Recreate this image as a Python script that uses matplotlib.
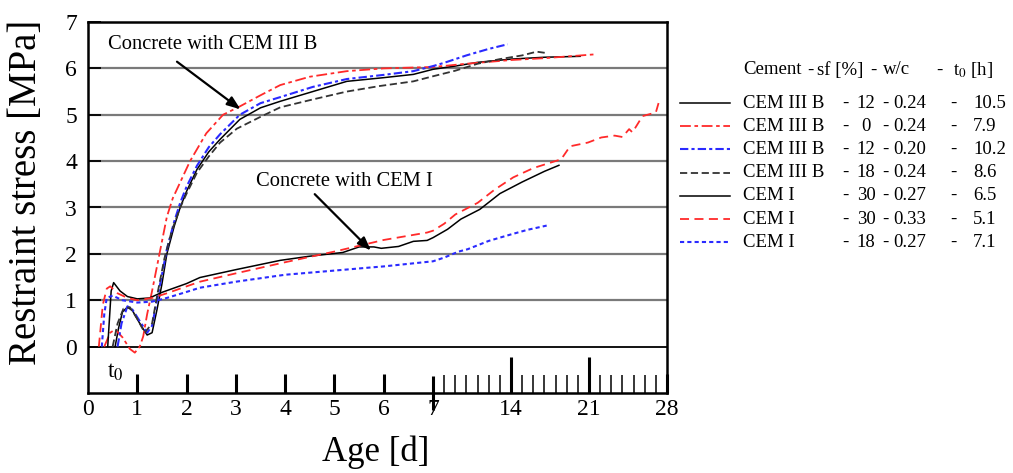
import numpy as np
import matplotlib
matplotlib.use("Agg")
import matplotlib.pyplot as plt

plt.rcParams['font.family'] = ['Liberation Serif', 'DejaVu Serif']
plt.rcParams['mathtext.fontset'] = 'stix'

#-------- data (age in days, restraint stress in MPa) --------#
# CEM III B - 12 - 0.24 - 10.5 h
c3_12_24_x = [0.55, 0.62, 0.70, 0.80, 0.90, 1.05, 1.20, 1.30, 1.40, 1.50, 1.60, 1.75, 1.87, 2.00, 2.21,
              2.45, 2.68, 3.08, 3.50, 3.90, 4.56, 5.25, 6.00, 6.60, 7.0, 9.0, 11.0, 14.0, 17.0, 20.2]
c3_12_24_y = [0.00, 0.40, 0.75, 0.85, 0.78, 0.50, 0.25, 0.30, 0.80, 1.35, 2.00, 2.60, 3.00, 3.35, 3.82,
              4.20, 4.47, 4.90, 5.15, 5.29, 5.50, 5.72, 5.80, 5.87, 5.98, 6.05, 6.13, 6.20, 6.24, 6.26]
# CEM III B - 0 - 0.24 - 7.9 h
c3_0_24_x = [0.33, 0.45, 0.55, 0.70, 0.85, 0.95, 1.05, 1.12, 1.20, 1.30, 1.45, 1.60, 1.72, 2.07, 2.40,
             2.74, 3.08, 3.50, 3.90, 4.50, 5.25, 6.00, 7.0, 10.0, 14.0, 17.0, 21.4]
c3_0_24_y = [0.00, 0.30, 0.37, 0.20, -0.05, -0.13, 0.00, 0.22, 0.70, 1.20, 2.00, 2.80, 3.20, 4.00, 4.60,
             5.00, 5.18, 5.42, 5.64, 5.82, 5.94, 6.00, 6.03, 6.10, 6.18, 6.22, 6.30]
# CEM III B - 12 - 0.20 - 10.2 h
c3_12_20_x = [0.60, 0.68, 0.80, 0.90, 1.05, 1.20, 1.30, 1.40, 1.50, 1.60, 1.75, 1.87, 2.00, 2.21, 2.45,
              2.68, 3.08, 3.50, 3.90, 4.56, 5.25, 6.00, 6.60, 7.0, 8.0, 10.0, 12.0, 13.7]
c3_12_20_y = [0.00, 0.50, 0.87, 0.80, 0.55, 0.30, 0.45, 1.00, 1.55, 2.10, 2.70, 3.10, 3.45, 3.90, 4.30,
              4.58, 5.00, 5.25, 5.38, 5.60, 5.77, 5.86, 5.94, 6.05, 6.12, 6.28, 6.42, 6.52]
# CEM III B - 18 - 0.24 - 8.6 h
c3_18_24_x = [0.50, 0.60, 0.72, 0.85, 1.00, 1.15, 1.30, 1.42, 1.55, 1.70, 1.87, 2.00, 2.21, 2.45, 2.68,
              3.02, 3.49, 3.90, 4.56, 5.25, 5.92, 6.60, 7.0, 9.0, 11.0, 13.0, 15.0, 16.3, 17.2]
c3_18_24_y = [0.00, 0.50, 0.82, 0.85, 0.60, 0.30, 0.50, 1.20, 1.90, 2.50, 3.00, 3.30, 3.75, 4.10, 4.40,
              4.70, 4.95, 5.16, 5.33, 5.50, 5.62, 5.72, 5.83, 5.95, 6.10, 6.20, 6.28, 6.36, 6.33]
# CEM I - 30 - 0.27 - 6.5 h
c1_30_27_x = [0.40, 0.47, 0.52, 0.65, 0.80, 1.00, 1.25, 1.50, 2.00, 2.27, 3.00, 3.90, 4.50, 5.17, 5.50,
              5.80, 5.95, 6.30, 6.60, 6.88, 7.0, 8.3, 9.5, 11.2, 13.0, 15.0, 17.0, 18.3]
c1_30_27_y = [0.00, 1.20, 1.38, 1.20, 1.08, 1.03, 1.05, 1.17, 1.36, 1.49, 1.66, 1.86, 1.95, 2.03, 2.15,
              2.15, 2.12, 2.16, 2.27, 2.29, 2.35, 2.53, 2.75, 2.96, 3.30, 3.55, 3.78, 3.91]
# CEM I - 30 - 0.33 - 5.1 h
c1_30_33_x = [0.22, 0.30, 0.38, 0.45, 0.60, 0.80, 1.00, 1.30, 1.60, 2.00, 2.27, 3.00, 4.00, 5.00, 6.00,
              6.88, 7.0, 8.0, 9.0, 11.0, 12.5, 14.2, 16.0, 18.5, 19.3, 20.9, 22.1, 23.3, 24.0, 24.6,
              24.9, 25.8, 27.0, 27.3]
c1_30_33_y = [0.00, 0.90, 1.25, 1.30, 1.15, 1.05, 1.00, 1.05, 1.15, 1.30, 1.40, 1.58, 1.82, 2.05, 2.30,
              2.46, 2.50, 2.65, 2.85, 3.10, 3.38, 3.65, 3.85, 4.04, 4.32, 4.40, 4.51, 4.55, 4.52, 4.69,
              4.62, 4.97, 5.05, 5.30]
# CEM I - 18 - 0.27 - 7.1 h
c1_18_27_x = [0.28, 0.33, 0.38, 0.50, 0.70, 1.00, 1.30, 1.60, 2.00, 2.27, 3.00, 4.00, 5.00, 5.66, 6.00,
              7.0, 8.0, 9.3, 10.1, 12.0, 14.0, 15.5, 17.2]
c1_18_27_y = [0.00, 0.70, 1.05, 1.10, 1.00, 0.95, 0.97, 1.05, 1.18, 1.27, 1.40, 1.55, 1.64, 1.70, 1.73,
              1.84, 1.92, 2.05, 2.10, 2.28, 2.42, 2.52, 2.61]

names = ['CEM III B', 'CEM III B', 'CEM III B', 'CEM III B', 'CEM I', 'CEM I', 'CEM I']
sf = ['12', '0', '12', '18', '30', '30', '18']
wc = ['0.24', '0.24', '0.20', '0.24', '0.27', '0.33', '0.27']
t0 = ['10.5', '7.9', '10.2', '8.6', '6.5', '5.1', '7.1']

RED = '#ff2a2a'
BLUE = '#2a2aff'
series = [
    (c3_12_24_x, c3_12_24_y, dict(color='black', lw=1.1, ls='-')),
    (c3_0_24_x, c3_0_24_y, dict(color=RED, lw=1.3, ls=(0, (6, 2, 2, 2)))),
    (c3_12_20_x, c3_12_20_y, dict(color=BLUE, lw=1.5, ls=(0, (4, 1.5, 1.5, 1.5)))),
    (c3_18_24_x, c3_18_24_y, dict(color='#333333', lw=1.3, ls=(0, (4, 2)))),
    (c1_30_27_x, c1_30_27_y, dict(color='black', lw=1.1, ls='-')),
    (c1_30_33_x, c1_30_33_y, dict(color=RED, lw=1.3, ls=(0, (5, 3)))),
    (c1_18_27_x, c1_18_27_y, dict(color=BLUE, lw=1.5, ls=(0, (2, 1.5)))),
]

#-------- broken time axis: 0-7 d linear, 7-28 d compressed --------#
K = 0.226
def fwd(x):
    x = np.asarray(x, dtype=float)
    return np.where(x <= 7, x, 7 + (x - 7) * K)
def inv(u):
    u = np.asarray(u, dtype=float)
    return np.where(u <= 7, u, 7 + (u - 7) / K)

fig = plt.figure(figsize=(10.13, 4.73), dpi=100)
ax = fig.add_axes([88/1013, 80/473, 579/1013, 371/473])
ax.set_xscale('function', functions=(fwd, inv))

for x, y, st in series:
    ax.plot(x, y, **st)

ax.set_xlim(0, 28)
ax.set_ylim(-1, 7)

# grid
for g in range(1, 7):
    ax.axhline(g, color='#7a7a7a', lw=1.6, zorder=0)
ax.axhline(0, color='black', lw=1.3, zorder=0)

for s in ax.spines.values():
    s.set_linewidth(1.8)

ax.set_yticks(range(0, 8))
ax.tick_params(axis='y', direction='in', length=9, width=1.3, labelsize=17, pad=8)
ax.set_xticks([0, 1, 2, 3, 4, 5, 6, 7, 14, 21, 28])
ax.set_xticks([d for d in range(8, 28) if d not in (14, 21)], minor=True)
ax.tick_params(axis='x', which='major', direction='in', length=14, width=2.2, labelsize=17, pad=4)
ax.tick_params(axis='x', which='minor', direction='in', length=13, width=1.1)
ax.tick_params(top=False, right=False)
xt = ax.xaxis.get_major_ticks()
xt[0].tick1line.set_visible(False)
for i in (8, 9):
    xt[i].tick1line.set_markersize(26)
xt[7].tick1line.set_marker('|')
xt[7].tick1line.set_markersize(24)

ax.text(0.38, -0.55, 't$_0$', fontsize=17, ha='left', va='center')

ax.annotate('', xy=(3.14, 5.08), xytext=(1.76, 6.18),
            arrowprops=dict(arrowstyle='-|>,head_length=0.8,head_width=0.3', color='black', lw=1.6))
ax.text(0.40, 6.52, 'Concrete with CEM III B', fontsize=14.8, ha='left', va='center')
ax.annotate('', xy=(5.78, 2.03), xytext=(4.56, 3.33),
            arrowprops=dict(arrowstyle='-|>,head_length=0.8,head_width=0.3', color='black', lw=1.6))
ax.text(3.40, 3.56, 'Concrete with CEM I', fontsize=14.8, ha='left', va='center')

fig.text(27/1013, 1 - 192/473, 'Restraint stress [MPa]', rotation=90, fontsize=28,
         ha='center', va='center')
fig.text(376/1013, 1 - 452/473, 'Age [d]', fontsize=25, ha='center', va='center')

#-------- legend table on the right --------#
lg = fig.add_axes([0, 0, 1, 1])
lg.set_xlim(0, 1013)
lg.set_ylim(473, 0)
lg.axis('off')
fs = 13.5
hy = 70
lg.text(743, hy, 'Cement', fontsize=fs, ha='left', va='center')
lg.text(810, hy, '-', fontsize=fs, ha='center', va='center')
lg.text(817, hy, 'sf [%]', fontsize=fs, ha='left', va='center')
lg.text(873, hy, '-', fontsize=fs, ha='center', va='center')
lg.text(883, hy, 'w/c', fontsize=fs, ha='left', va='center')
lg.text(939, hy, '-', fontsize=fs, ha='center', va='center')
lg.text(953, hy, 't$_0$ [h]', fontsize=fs, ha='left', va='center')
for i in range(7):
    ry = 103 + i * 23.2
    lg.plot([680, 730], [ry, ry], **series[i][2])
    lg.text(743, ry, names[i], fontsize=fs, ha='left', va='center')
    lg.text(845, ry, '-', fontsize=fs, ha='center', va='center')
    lg.text(866, ry, sf[i], fontsize=fs, ha='center', va='center')
    lg.text(885, ry, '-', fontsize=fs, ha='center', va='center')
    lg.text(893, ry, wc[i], fontsize=fs, ha='left', va='center')
    lg.text(953, ry, '-', fontsize=fs, ha='center', va='center')
    lg.text(973, ry, t0[i], fontsize=fs, ha='left', va='center')

fig.savefig('out.png', dpi=100)
